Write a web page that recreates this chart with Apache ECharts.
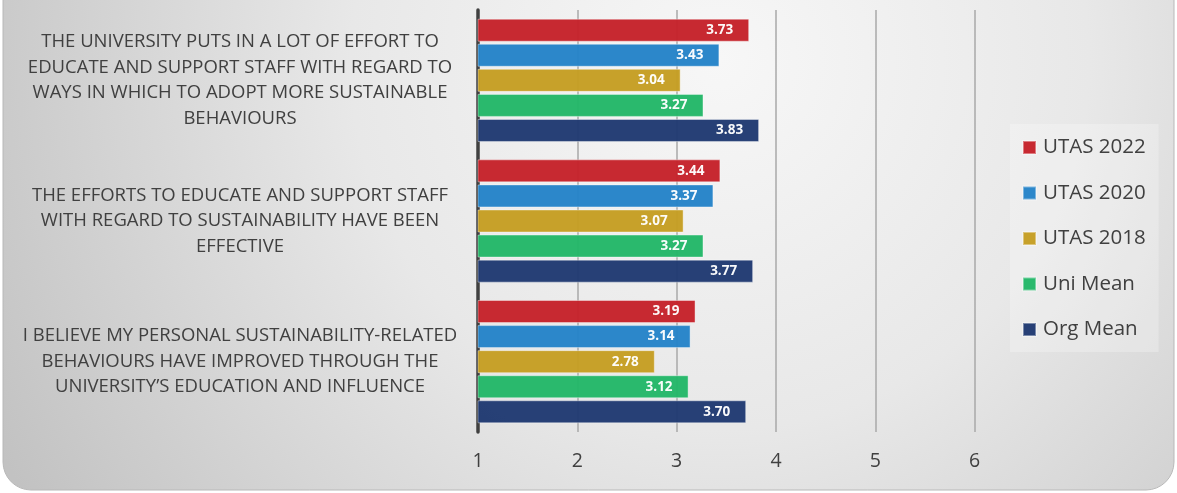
<!DOCTYPE html>
<html>
<head>
<meta charset="utf-8">
<script src="https://cdn.jsdelivr.net/npm/echarts@6/dist/echarts.min.js"></script>
<style>
html,body{margin:0;padding:0;background:#ffffff;}
#chart{width:1177px;height:493px;}
</style>
</head>
<body>
<div id="chart"></div>
<script>
const categories = [
  'THE UNIVERSITY PUTS IN A LOT OF EFFORT TO\nEDUCATE AND SUPPORT STAFF WITH REGARD TO\nWAYS IN WHICH TO ADOPT MORE SUSTAINABLE\nBEHAVIOURS',
  'THE EFFORTS TO EDUCATE AND SUPPORT STAFF\nWITH REGARD TO SUSTAINABILITY HAVE BEEN\nEFFECTIVE',
  'I BELIEVE MY PERSONAL SUSTAINABILITY-RELATED\nBEHAVIOURS HAVE IMPROVED THROUGH THE\nUNIVERSITY\u2019S EDUCATION AND INFLUENCE'
];
const seriesNames = ['UTAS 2022', 'UTAS 2020', 'UTAS 2018', 'Uni Mean', 'Org Mean'];
const utas2022 = [3.73, 3.44, 3.19];
const utas2020 = [3.43, 3.37, 3.14];
const utas2018 = [3.04, 3.07, 2.78];
const uniMean = [3.27, 3.27, 3.12];
const orgMean = [3.83, 3.77, 3.70];
const xTicks = [1, 2, 3, 4, 5, 6];

const seriesData = [utas2022, utas2020, utas2018, uniMean, orgMean];
const colors = ['#C5222A', '#2583C8', '#C59E23', '#23B768', '#203A72'];

const chart = echarts.init(document.getElementById('chart'), null, {renderer: 'canvas'});

const option = {
  animation: false,
  graphic: [{
    type: 'rect',
    z: -10,
    silent: true,
    shape: {x: 3, y: -40, width: 1171, height: 530, r: 28},
    style: {
      fill: {
        type: 'radial', x: 720, y: 60, r: 820, global: true,
        colorStops: [
          {offset: 0, color: '#f7f7f7'},
          {offset: 0.45, color: '#e8e8e8'},
          {offset: 1, color: '#c2c2c2'}
        ]
      },
      stroke: '#b8b8b8',
      lineWidth: 1
    }
  }],
  grid: {left: 478, right: 103, top: 10, bottom: 61, containLabel: false},
  legend: {
    orient: 'vertical',
    left: 1010,
    top: 124,
    padding: [13, 13, 12, 12],
    itemGap: 24.5,
    itemWidth: 13,
    itemHeight: 13,
    icon: 'rect',
    backgroundColor: 'rgba(255,255,255,0.25)',
    textStyle: {fontFamily: 'Open Sans', fontSize: 20.5, color: '#404040', padding: [0, 0, 0, 2]},
    data: seriesNames
  },
  xAxis: {
    type: 'value',
    min: 1,
    max: 7,
    interval: 1,
    axisLine: {show: false},
    axisTick: {show: false},
    axisLabel: {
      fontFamily: 'Open Sans', fontSize: 19.5, color: '#404040', margin: 19,
      showMaxLabel: false,
      formatter: function (v) { return xTicks.indexOf(v) >= 0 ? String(v) : ''; }
    },
    splitLine: {show: true, showMaxLine: false, lineStyle: {color: '#a8a8a8', width: 1.5}}
  },
  yAxis: {
    type: 'category',
    inverse: true,
    data: categories,
    axisLine: {show: true, lineStyle: {color: '#404040', width: 3.5}},
    axisTick: {show: false},
    axisLabel: {
      fontFamily: 'Open Sans', fontSize: 18.5, color: '#404040',
      align: 'center', margin: 238, lineHeight: 25.5
    }
  },
  series: seriesNames.map(function (name, i) {
    return {
      name: name,
      type: 'bar',
      data: seriesData[i],
      barWidth: 23,
      barGap: '9%',
      barCategoryGap: '10%',
      itemStyle: {color: colors[i], opacity: 0.97, borderColor: 'rgba(255,255,255,0.4)', borderWidth: 1},
      label: {
        show: true,
        position: 'insideRight',
        distance: 16,
        color: '#ffffff',
        fontFamily: 'Open Sans',
        fontWeight: 'bold',
        fontSize: 13.5,
        formatter: function (p) { return p.value.toFixed(2); }
      }
    };
  })
};
chart.setOption(option);
</script>
</body>
</html>
